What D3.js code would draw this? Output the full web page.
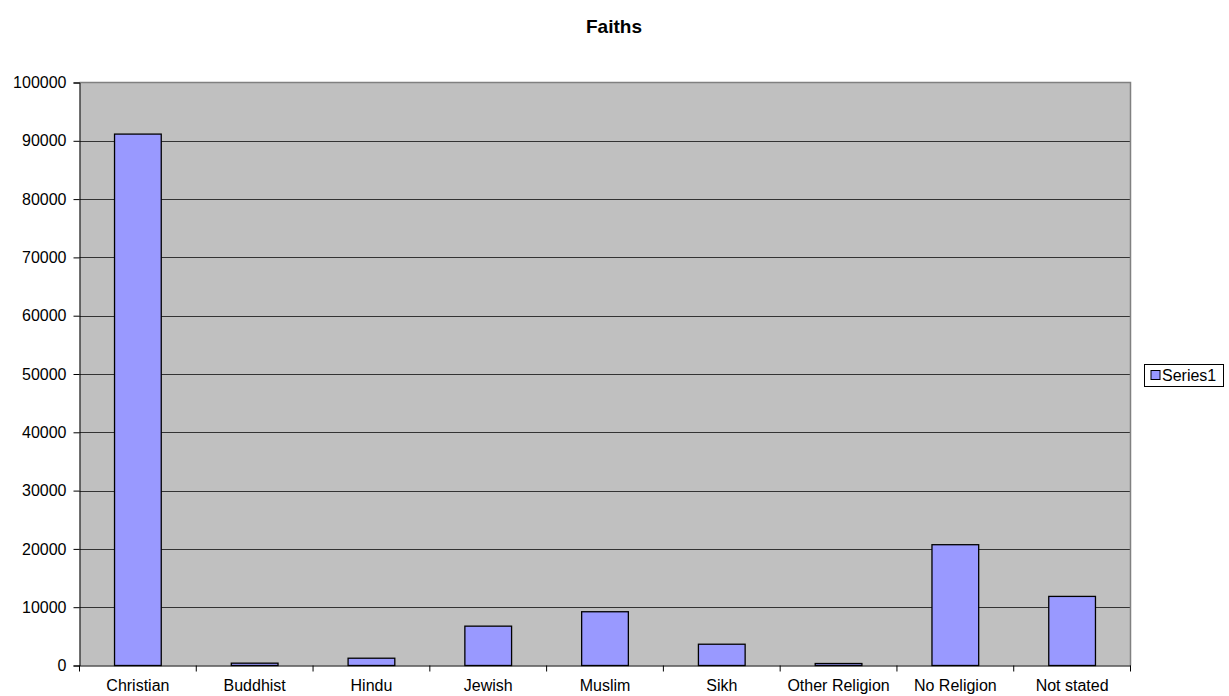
<!DOCTYPE html>
<html><head><meta charset="utf-8">
<script src="https://cdn.jsdelivr.net/npm/d3@7"></script>
<style>body{margin:0;background:#fff;} text{font-family:"Liberation Sans",Arial,sans-serif;}</style>
</head><body>
<svg id="c" width="1229" height="696"></svg>
<script>
const categories = ["Christian","Buddhist","Hindu","Jewish","Muslim","Sikh","Other Religion","No Religion","Not stated"];
const values = [91150, 400, 1250, 6750, 9220, 3650, 340, 20720, 11850];
const yTicks = [0,10000,20000,30000,40000,50000,60000,70000,80000,90000,100000];
const seriesName = "Series1";
const title = "Faiths";

const FF = '"Liberation Sans",Arial,sans-serif';
const svg = d3.select("#c");
const L = 79.5, R = 1130.5, T = 82.5, B = 665.5;
const x = d3.scaleBand().domain(categories).range([L, R]).paddingInner(0.6).paddingOuter(0.3);
const xb = d3.scaleBand().domain(categories).range([L, R]);
const y = d3.scaleLinear().domain([0, 100000]).range([B, T]);

svg.append("rect").attr("x", L).attr("y", T).attr("width", R-L).attr("height", B-T).attr("fill", "#c0c0c0");

// gridlines
svg.append("g").selectAll("line").data(yTicks.filter(d => d > 0 && d < 100000)).join("line")
  .attr("x1", L).attr("x2", R).attr("y1", d => Math.round(y(d))+0.5).attr("y2", d => Math.round(y(d))+0.5)
  .attr("stroke", "#333").attr("stroke-width", 1);

// border top/right
svg.append("path").attr("d", `M${L},${T}H${R}V${B}`).attr("fill","none").attr("stroke","#808080").attr("stroke-width",1.5);

// bars
svg.append("g").selectAll("rect").data(values).join("rect")
  .attr("x", (d,i) => x(categories[i]))
  .attr("width", x.bandwidth())
  .attr("y", d => y(d))
  .attr("height", d => B - y(d))
  .attr("fill", "#9999ff").attr("stroke", "#000").attr("stroke-width", 1.3);

// y axis
const ya = svg.append("g").attr("transform", `translate(${L},0)`)
  .call(d3.axisLeft(y).tickValues(yTicks).tickSize(6).tickPadding(7).tickFormat(d3.format("d")));
ya.select(".domain").attr("stroke", "#000");
ya.selectAll(".tick line").attr("stroke", "#000");
ya.selectAll(".tick text").attr("font-size", 16).attr("fill", "#000").style("font-family", FF);

// x axis
const xa = svg.append("g").attr("transform", `translate(0,${B})`)
  .call(d3.axisBottom(xb).tickSize(0).tickPadding(14));
xa.select(".domain").attr("stroke", "#000");
xa.selectAll(".tick text").attr("font-size", 16).attr("fill", "#000").style("font-family", FF);
svg.append("g").selectAll("line").data(d3.range(categories.length+1)).join("line")
  .attr("x1", i => L + i*xb.step()).attr("x2", i => L + i*xb.step())
  .attr("y1", B).attr("y2", B+6).attr("stroke", "#000");

// title
svg.append("text").attr("x", 614).attr("y", 33).attr("text-anchor", "middle")
  .attr("font-size", 19).attr("font-weight", "bold").text(title);

// legend
const lg = svg.append("g").attr("transform", "translate(1144.5,364.5)");
lg.append("rect").attr("width", 79).attr("height", 22).attr("fill", "#fff").attr("stroke", "#000");
lg.append("rect").attr("x", 6.5).attr("y", 6).attr("width", 9).attr("height", 9).attr("fill", "#9999ff").attr("stroke", "#000");
lg.append("text").attr("x", 17.5).attr("y", 16.5).attr("font-size", 16).text(seriesName);
</script>
</body></html>
